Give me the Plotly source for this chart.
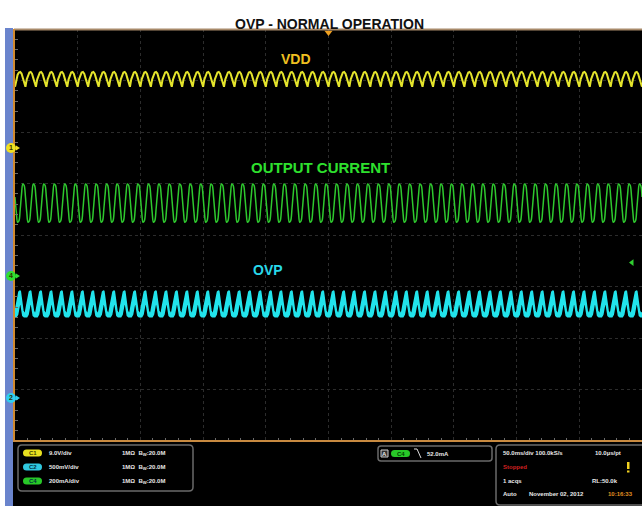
import numpy as np
import plotly.graph_objects as go

# ---------------- data ----------------
# oscilloscope settings
channel_names = ["C1", "C2", "C4"]
channel_scales = [9.0, 0.5, 200.0]          # V/div, V/div, mA/div
channel_ground_div = [1.69, -3.165, -0.796]  # ground marker position (divisions)
timebase_ms_per_div = 50.0
n_divisions_x = 10
n_cycles = 60                                # 120 Hz ripple over 500 ms

# one observed ripple cycle of each trace (physical units)
vdd_cycle_v = [10.7, 12.0, 12.8, 13.2, 13.3, 13.0, 12.2, 11.2]
ovp_cycle_upper_v = [0.83, 0.90, 0.97, 1.03, 1.04, 0.94, 0.85, 0.82]
ovp_cycle_lower_v = [0.79, 0.79, 0.81, 0.87, 0.95, 0.88, 0.80, 0.79]
iout_cycle_ma = [307, 248, 209, 214, 259, 318, 357, 352]

trigger_level_ma = 52.0

# status panel texts
ch_scale_labels = ["9.0V/div", "500mV/div", "200mA/div"]
ch_badges = ["C1", "C2", "C4"]
ch_badge_colors = ["#e8e020", "#30c8e0", "#28c828"]
marker_labels = ["1", "2", "4"]
marker_colors = ["#f0e020", "#30d0f0", "#30e030"]

W, H = 642, 506


def px(x):
    return x / W


def py(y):
    return 1 - y / H


# plot area in pixels
PX0, PX1, PY0, PY1 = 15, 642, 29, 441


def div_to_py(d):
    return PY0 + (4 - d) * (PY1 - PY0) / 8


def build(cycle, scale, ground):
    vals = list(cycle) * n_cycles + [cycle[0]]
    total_ms = timebase_ms_per_div * n_divisions_x
    t = np.arange(len(vals)) * total_ms / (len(cycle) * n_cycles)
    y = ground + np.array(vals, dtype=float) / scale
    return t, y


fig = go.Figure()

t1, y1 = build(vdd_cycle_v, channel_scales[0], channel_ground_div[0])
t2u, y2u = build(ovp_cycle_upper_v, channel_scales[1], channel_ground_div[1])
t2l, y2l = build(ovp_cycle_lower_v, channel_scales[1], channel_ground_div[1])
t4, y4 = build(iout_cycle_ma, channel_scales[2], channel_ground_div[2])

fig.add_trace(go.Scatter(x=t1, y=y1, mode="lines", line=dict(color="#e4e42c", width=2),
                         hoverinfo="skip", showlegend=False))
fig.add_trace(go.Scatter(x=t4, y=y4, mode="lines", line=dict(color="#2ec82e", width=1.5, shape="spline"),
                         hoverinfo="skip", showlegend=False))
fig.add_trace(go.Scatter(x=t2l, y=y2l, mode="lines", line=dict(color="#22e4ec", width=1.5),
                         hoverinfo="skip", showlegend=False))
fig.add_trace(go.Scatter(x=t2u, y=y2u, mode="lines", line=dict(color="#22e4ec", width=1.5),
                         fill="tonexty", fillcolor="#22e4ec", hoverinfo="skip", showlegend=False))

# trigger position marker (top) and trigger level (right)
fig.add_trace(go.Scatter(x=[timebase_ms_per_div * n_divisions_x / 2], y=[3.93], mode="markers",
                         marker=dict(symbol="triangle-down", size=7, color="#f0a020"),
                         cliponaxis=False, hoverinfo="skip", showlegend=False))
fig.add_trace(go.Scatter(x=[9.84 * timebase_ms_per_div],
                         y=[channel_ground_div[2] + trigger_level_ma / channel_scales[2]],
                         mode="markers", marker=dict(symbol="triangle-left", size=6, color="#30d030"),
                         cliponaxis=False, hoverinfo="skip", showlegend=False))

shapes = []
# blue strip on the left, black screen
shapes.append(dict(type="rect", xref="paper", yref="paper", x0=px(5), x1=px(13), y0=0, y1=py(28),
                   fillcolor="#6a84cc", line_width=0, layer="below"))
shapes.append(dict(type="rect", xref="paper", yref="paper", x0=px(13), x1=1, y0=0, y1=py(29),
                   fillcolor="#000000", line_width=0, layer="below"))
# graticule border lines
shapes.append(dict(type="line", xref="paper", yref="paper", x0=px(14), x1=1, y0=py(29.5), y1=py(29.5),
                   line=dict(color="#a88a6a", width=2)))
shapes.append(dict(type="line", xref="paper", yref="paper", x0=px(14), x1=px(14), y0=py(29), y1=py(441),
                   line=dict(color="#d08a30", width=2)))
shapes.append(dict(type="line", xref="paper", yref="paper", x0=px(13), x1=1, y0=py(441), y1=py(441),
                   line=dict(color="#c88a40", width=2)))

annotations = []


def txt(x, y, s, color="#e8e8e8", size=6, anchor="left", bold=True):
    annotations.append(dict(x=px(x), y=py(y), xref="paper", yref="paper", text=(f"<b>{s}</b>" if bold else s),
                            showarrow=False, xanchor=anchor, yanchor="middle",
                            font=dict(family="Arial", size=size, color=color)))


# channel ground markers on the left edge
for i in range(3):
    cy = div_to_py(channel_ground_div[i])
    shapes.append(dict(type="circle", xref="paper", yref="paper", x0=px(6), x1=px(16),
                       y0=py(cy + 5), y1=py(cy - 5), fillcolor=marker_colors[i], line_width=0))
    shapes.append(dict(type="path", xref="paper", yref="paper",
                       path=f"M {px(16)},{py(cy-2.5)} L {px(20)},{py(cy)} L {px(16)},{py(cy+2.5)} Z",
                       fillcolor=marker_colors[i], line_width=0))
    txt(11, cy, marker_labels[i], color="#333300", size=7, anchor="center")


def rrect(x0, y0, x1, y1, r):
    X0, X1 = px(x0), px(x1)
    Y0, Y1 = py(y0), py(y1)
    rx, ry = r / W, r / H
    return (f"M {X0+rx},{Y0} L {X1-rx},{Y0} Q {X1},{Y0} {X1},{Y0-ry} "
            f"L {X1},{Y1+ry} Q {X1},{Y1} {X1-rx},{Y1} L {X0+rx},{Y1} "
            f"Q {X0},{Y1} {X0},{Y1+ry} L {X0},{Y0-ry} Q {X0},{Y0} {X0+rx},{Y0} Z")


panel_line = dict(color="#6a6a6a", width=1.5)
shapes.append(dict(type="path", xref="paper", yref="paper", path=rrect(18, 445, 193, 491, 4),
                   line=panel_line, fillcolor="rgba(0,0,0,0)"))
shapes.append(dict(type="path", xref="paper", yref="paper", path=rrect(378, 446, 492, 461, 3),
                   line=panel_line, fillcolor="rgba(0,0,0,0)"))
shapes.append(dict(type="path", xref="paper", yref="paper", path=rrect(496, 445, 648, 505, 4),
                   line=panel_line, fillcolor="rgba(0,0,0,0)"))

rows_y = [453, 467, 481]
for i in range(3):
    shapes.append(dict(type="path", xref="paper", yref="paper", path=rrect(23, rows_y[i] - 3.5, 42, rows_y[i] + 3.5, 3.5),
                       line_width=0, fillcolor=ch_badge_colors[i]))
    txt(32.5, rows_y[i], ch_badges[i], color="#404000" if i == 0 else "#003040", size=6, anchor="center")
    txt(47, rows_y[i], ch_scale_labels[i])
    txt(120, rows_y[i], "1MΩ  B<sub>W</sub>:20.0M")

# trigger box
shapes.append(dict(type="rect", xref="paper", yref="paper", x0=px(381), x1=px(388), y0=py(450), y1=py(457),
                   line=dict(color="#cccccc", width=1), fillcolor="#303030"))
txt(384.5, 453.5, "A", size=6, anchor="center")
shapes.append(dict(type="path", xref="paper", yref="paper", path=rrect(391, 450, 410, 457, 3.5),
                   line_width=0, fillcolor="#28c828"))
txt(400.5, 453.5, "C4", color="#004000", size=6, anchor="center")
shapes.append(dict(type="line", xref="paper", yref="paper", x0=px(414), x1=px(417), y0=py(449), y1=py(449),
                   line=dict(color="#dddddd", width=1)))
shapes.append(dict(type="line", xref="paper", yref="paper", x0=px(417), x1=px(421), y0=py(449), y1=py(458),
                   line=dict(color="#dddddd", width=1)))
txt(425, 453.5, f"{trigger_level_ma:.1f}mA")

# acquisition box
txt(501, 453, "50.0ms/div 100.0kS/s")
txt(593, 453, "10.0µs/pt")
txt(501, 467, "Stopped", color="#d02020")
shapes.append(dict(type="rect", xref="paper", yref="paper", x0=px(627), x1=px(629.5), y0=py(462), y1=py(469),
                   line_width=0, fillcolor="#f0d020"))
shapes.append(dict(type="rect", xref="paper", yref="paper", x0=px(627), x1=px(629.5), y0=py(470.5), y1=py(472.5),
                   line_width=0, fillcolor="#f0d020"))
txt(501, 481, "1 acqs")
txt(590, 481, "RL:50.0k")
txt(501, 494, "Auto")
txt(527, 494, "November 02, 2012")
txt(606, 494, "10:16:33", color="#e09020")

# trace labels
annotations.append(dict(x=px(296), y=py(49), xref="paper", yref="paper", text="<b>VDD</b>", showarrow=False,
                        font=dict(family="Arial", size=14, color="#f0c020")))
annotations.append(dict(x=px(320), y=py(157), xref="paper", yref="paper", text="<b>OUTPUT CURRENT</b>",
                        showarrow=False, font=dict(family="Arial", size=15, color="#2ee02e")))
annotations.append(dict(x=px(268), y=py(270), xref="paper", yref="paper", text="<b>OVP</b>", showarrow=False,
                        font=dict(family="Arial", size=14, color="#28d8ea")))
# title
annotations.append(dict(x=px(330), y=py(14), xref="paper", yref="paper", text="<b>OVP - NORMAL OPERATION</b>",
                        showarrow=False, font=dict(family="Arial", size=14, color="#111111")))

total_ms = timebase_ms_per_div * n_divisions_x
fig.update_layout(
    width=W, height=H, margin=dict(l=0, r=0, t=0, b=0),
    paper_bgcolor="white", plot_bgcolor="black",
    shapes=shapes, annotations=annotations,
    xaxis=dict(domain=[px(PX0), 1], range=[0, total_ms], dtick=timebase_ms_per_div, tick0=0,
               showgrid=True, gridcolor="#2c2c2c", griddash="dot", gridwidth=1,
               zeroline=False, showticklabels=False, ticks="",
               minor=dict(dtick=timebase_ms_per_div / 5, ticks="inside", ticklen=3, tickcolor="#6a6a6a",
                          showgrid=False),
               mirror="ticks", showline=False, fixedrange=True),
    yaxis=dict(domain=[py(PY1), py(PY0)], range=[-4, 4], dtick=1, tick0=0,
               showgrid=True, gridcolor="#2c2c2c", griddash="dot", gridwidth=1,
               zeroline=False, showticklabels=False, ticks="",
               minor=dict(dtick=0.2, ticks="inside", ticklen=3, tickcolor="#6a6a6a", showgrid=False),
               showline=False, fixedrange=True),
)

fig.write_html("out.html", config={"displayModeBar": False},
               post_script="document.body.style.margin='0px';document.body.style.overflow='hidden';")
